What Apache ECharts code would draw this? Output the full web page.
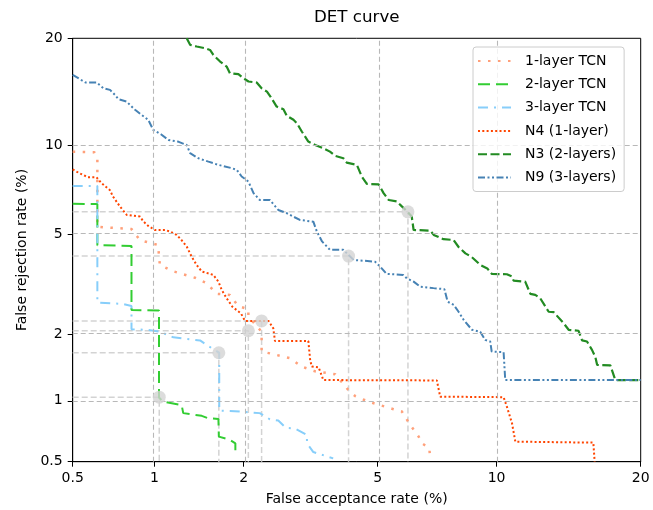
<!DOCTYPE html>
<html><head><meta charset="utf-8">
<script src="https://cdn.jsdelivr.net/npm/echarts@6/dist/echarts.min.js"></script>
<style>html,body{margin:0;padding:0;background:#fff}#c{width:653px;height:510px}</style>
</head><body><div id="c"></div>
<script>
// ---- data (percent) ----
const tickLabels = [0.5, 1, 2, 5, 10, 20];
const gridValues = [1, 2, 5, 10];
const seriesNames = ['1-layer TCN', '2-layer TCN', '3-layer TCN', 'N4 (1-layer)', 'N3 (2-layers)', 'N9 (3-layers)'];
const tcn1 = [[0.5,9.58],[0.604,9.54],[0.62,9.24],[0.62,5.34],[0.655,5.31],[0.828,5.23],[0.888,4.76],[1.03,4.57],[1.045,3.84],[1.15,3.64],[1.381,3.42],[1.514,3.25],[1.634,2.95],[1.805,2.92],[1.92,2.63],[2.07,2.55],[2.07,2.38],[2.28,2.05],[2.28,1.68],[2.42,1.65],[2.79,1.57],[3.03,1.44],[3.32,1.37],[3.80,1.33],[4.14,1.126],[4.33,1.053],[4.72,0.99],[5.52,0.912],[5.81,0.889],[6.11,0.766],[6.43,0.67],[6.56,0.62],[6.85,0.586],[6.88,0.53]];
const tcn2 = [[0.5,6.43],[0.62,6.42],[0.62,4.56],[0.828,4.53],[0.828,2.53],[1.038,2.52],[1.038,1.037],[1.072,0.99],[1.244,0.955],[1.26,0.873],[1.456,0.847],[1.533,0.824],[1.655,0.818],[1.66,0.67],[1.805,0.645],[1.88,0.62],[1.88,0.545]];
const tcn3 = [[0.5,7.40],[0.62,7.40],[0.62,2.72],[0.774,2.68],[0.828,2.63],[0.828,2.10],[0.937,2.09],[1.045,2.05],[1.165,1.94],[1.437,1.88],[1.571,1.74],[1.665,1.663],[1.665,0.898],[1.805,0.895],[2.25,0.873],[2.42,0.815],[2.57,0.804],[2.71,0.74],[2.89,0.735],[3.14,0.683],[3.14,0.62],[3.28,0.56],[3.75,0.52]];
const n4 = [[0.5,8.4],[0.531,8.16],[0.571,7.92],[0.615,7.92],[0.643,7.56],[0.69,7.17],[0.709,6.81],[0.752,6.29],[0.796,5.88],[0.888,5.80],[0.914,5.57],[0.951,5.37],[1.003,5.19],[1.089,5.19],[1.135,5.12],[1.196,4.98],[1.244,4.76],[1.296,4.50],[1.346,4.13],[1.399,3.84],[1.456,3.62],[1.591,3.51],[1.655,3.30],[1.697,3.06],[1.761,2.83],[1.84,2.61],[1.96,2.45],[2.02,2.28],[2.40,2.275],[2.48,2.12],[2.51,1.87],[3.17,1.87],[3.21,1.54],[3.246,1.44],[3.40,1.43],[3.51,1.25],[7.16,1.245],[7.30,1.046],[10.38,1.04],[10.56,0.938],[10.85,0.78],[11.04,0.632],[16.2,0.625],[16.3,0.5]];
const n3 = [[1.295,20.0],[1.33,19.26],[1.40,19.07],[1.494,18.88],[1.552,18.69],[1.592,18.15],[1.676,17.44],[1.761,16.92],[1.805,16.24],[1.923,16.14],[1.995,15.74],[2.072,15.42],[2.20,15.32],[2.28,14.77],[2.37,14.46],[2.43,14.0],[2.54,13.11],[2.665,12.88],[2.73,12.32],[2.86,11.99],[2.93,11.71],[3.03,11.06],[3.17,10.30],[3.32,10.05],[3.51,9.82],[3.67,9.58],[3.80,9.29],[4.01,9.13],[4.10,8.84],[4.38,8.69],[4.52,7.96],[4.67,7.52],[5.03,7.50],[5.19,7.0],[5.36,6.63],[5.64,6.55],[5.81,6.30],[6.01,6.04],[6.17,5.80],[6.24,5.19],[6.89,5.16],[7.03,4.98],[7.44,4.80],[7.88,4.77],[8.11,4.49],[8.43,4.25],[8.74,4.11],[9.15,3.84],[9.51,3.72],[9.75,3.54],[10.56,3.53],[10.84,3.46],[10.94,3.33],[11.62,3.30],[11.93,2.95],[12.23,2.92],[12.54,2.83],[13.08,2.49],[13.41,2.48],[14.07,2.23],[14.42,2.09],[15.12,2.07],[15.37,1.88],[15.73,1.86],[16.10,1.71],[16.35,1.59],[16.49,1.465],[17.51,1.457],[17.9,1.25],[20,1.25]];
const n9 = [[0.5,16.07],[0.559,15.33],[0.616,15.33],[0.653,14.78],[0.691,14.62],[0.72,14.16],[0.742,13.76],[0.795,13.55],[0.817,13.26],[0.853,12.83],[0.90,12.40],[0.951,11.99],[0.99,11.19],[1.06,10.81],[1.12,10.42],[1.21,10.30],[1.295,10.05],[1.33,9.47],[1.418,9.13],[1.533,8.90],[1.655,8.69],[1.829,8.48],[1.90,8.37],[1.97,7.96],[2.07,7.66],[2.15,7.0],[2.25,6.63],[2.42,6.63],[2.57,6.12],[2.73,5.96],[2.99,5.64],[3.28,5.56],[3.36,5.12],[3.48,4.71],[3.67,4.38],[4.01,4.38],[4.29,4.01],[4.92,3.95],[5.08,3.78],[5.29,3.54],[5.86,3.51],[5.99,3.40],[6.24,3.30],[6.49,3.15],[7.02,3.11],[7.48,3.08],[7.62,2.74],[7.89,2.66],[8.11,2.49],[8.35,2.30],[8.74,2.09],[9.15,2.05],[9.40,1.89],[9.66,1.86],[9.74,1.68],[10.38,1.67],[10.47,1.25],[20,1.25]];
const eerPoints = [1.04, 1.66, 2.07, 2.28, 4.15, 6.03];

// ---- normal deviate (probit) scale ----
function probit(p){
  const a=[-3.969683028665376e+01,2.209460984245205e+02,-2.759285104469687e+02,1.383577518672690e+02,-3.066479806614716e+01,2.506628277459239e+00];
  const b=[-5.447609879822406e+01,1.615858368580409e+02,-1.556989798598866e+02,6.680131188771972e+01,-1.328068155288572e+01];
  const c=[-7.784894002430293e-03,-3.223964580411365e-01,-2.400758276141423e+00,-2.549732539343734e+00,4.374664141464968e+00,2.938163982698783e+00];
  const d=[7.784695709041462e-03,3.224671290700398e-01,2.445134137142996e+00,3.754408661907416e+00];
  const pl=0.02425, ph=1-pl; let q,r;
  if(p<pl){q=Math.sqrt(-2*Math.log(p));return (((((c[0]*q+c[1])*q+c[2])*q+c[3])*q+c[4])*q+c[5])/((((d[0]*q+d[1])*q+d[2])*q+d[3])*q+1);}
  if(p<=ph){q=p-0.5;r=q*q;return (((((a[0]*r+a[1])*r+a[2])*r+a[3])*r+a[4])*r+a[5])*q/(((((b[0]*r+b[1])*r+b[2])*r+b[3])*r+b[4])*r+1);}
  q=Math.sqrt(-2*Math.log(1-p));return -(((((c[0]*q+c[1])*q+c[2])*q+c[3])*q+c[4])*q+c[5])/((((d[0]*q+d[1])*q+d[2])*q+d[3])*q+1);
}
const P = v => probit(v/100);
const tr = arr => arr.map(([x,y]) => [P(x), P(y)]);
const fmt = v => String(tickLabels.reduce((b,t) => Math.abs(P(t)-v) < Math.abs(P(b)-v) ? t : b));
const FONT = 'DejaVu Sans';
const lo = P(0.5), hi = P(20);

const curveStyles = [
  {color:'#FFA07A', width:2.5, type:[2.5,7.5]},
  {color:'#32CD32', width:2, type:[12,6]},
  {color:'#87CEFA', width:2, type:[10,6,2,6]},
  {color:'#FF4500', width:2, type:[2,2.3]},
  {color:'#228B22', width:2.2, type:[9,3.5]},
  {color:'#4682B4', width:2, type:[7,2.5,2,2.5,2,2.5]}
];
const curveData = [tcn1, tcn2, tcn3, n4, n3, n9];

const series = [];
series.push({
  type:'line', data:[], silent:true, z:1,
  markLine:{silent:true, symbol:'none', label:{show:false}, animation:false,
    lineStyle:{color:'#b8b8b8', type:[5,3], width:1.1},
    data:[...gridValues.map(v=>({xAxis:P(v)})), ...gridValues.map(v=>({yAxis:P(v)}))]}
});
eerPoints.forEach(e => {
  series.push({type:'line', silent:true, z:2, symbol:'none', showSymbol:false,
    lineStyle:{color:'#d3d3d3', width:1.5, type:[6,3]},
    data:tr([[0.5,e],[e,e],[e,0.5]])});
});
curveData.forEach((d,i) => {
  series.push({name:seriesNames[i], type:'line', z:3, symbol:'none', showSymbol:false,
    color:curveStyles[i].color,
    lineStyle:{color:curveStyles[i].color, width:curveStyles[i].width, type:curveStyles[i].type},
    data:tr(d)});
});
series.push({type:'scatter', z:5, silent:true, symbolSize:13,
  itemStyle:{color:'#d3d3d3'}, data:tr(eerPoints.map(e=>[e,e]))});

const chart = echarts.init(document.getElementById('c'), null, {renderer:'canvas'});
chart.setOption({
  animation:false,
  backgroundColor:'#fff',
  grid:{left:72.7, right:12.3, top:38.3, bottom:48.3, show:true, borderColor:'#000', borderWidth:1, backgroundColor:'transparent'},
  xAxis:{type:'value', min:lo, max:hi,
    axisLine:{show:true, onZero:false, lineStyle:{color:'#000', width:1}},
    axisTick:{show:true, customValues:tickLabels.map(P), length:5, lineStyle:{color:'#000', width:1}},
    axisLabel:{customValues:tickLabels.map(P), formatter:fmt, fontSize:14, color:'#000', margin:10, fontFamily:FONT},
    splitLine:{show:false}},
  yAxis:{type:'value', min:lo, max:hi,
    axisLine:{show:true, onZero:false, lineStyle:{color:'#000', width:1}},
    axisTick:{show:true, customValues:tickLabels.map(P), length:5, lineStyle:{color:'#000', width:1}},
    axisLabel:{customValues:tickLabels.map(P), formatter:fmt, fontSize:14, color:'#000', margin:10, fontFamily:FONT},
    splitLine:{show:false}},
  legend:{data:seriesNames, orient:'vertical', left:473, top:47, itemWidth:33, itemHeight:14, itemGap:9.3,
    padding:[7,8,7,4], backgroundColor:'rgba(255,255,255,0.8)', borderColor:'#cccccc', borderWidth:1, borderRadius:3,
    itemStyle:{opacity:0, borderWidth:0},
    textStyle:{fontSize:14, fontFamily:FONT, color:'#000', padding:[0,0,0,9]}, z:10},
  graphic:[
    {type:'text', x:356.7, y:18, style:{text:'DET curve', fontSize:16.7, fontFamily:FONT, fill:'#000', textAlign:'center', textVerticalAlign:'middle'}},
    {type:'text', x:356.7, y:499, style:{text:'False acceptance rate (%)', fontSize:14, fontFamily:FONT, fill:'#000', textAlign:'center', textVerticalAlign:'middle'}},
    {type:'text', x:22, y:250, rotation:Math.PI/2, style:{text:'False rejection rate (%)', fontSize:14, fontFamily:FONT, fill:'#000', textAlign:'center', textVerticalAlign:'middle'}}
  ],
  series:series
});
</script>
</body></html>
